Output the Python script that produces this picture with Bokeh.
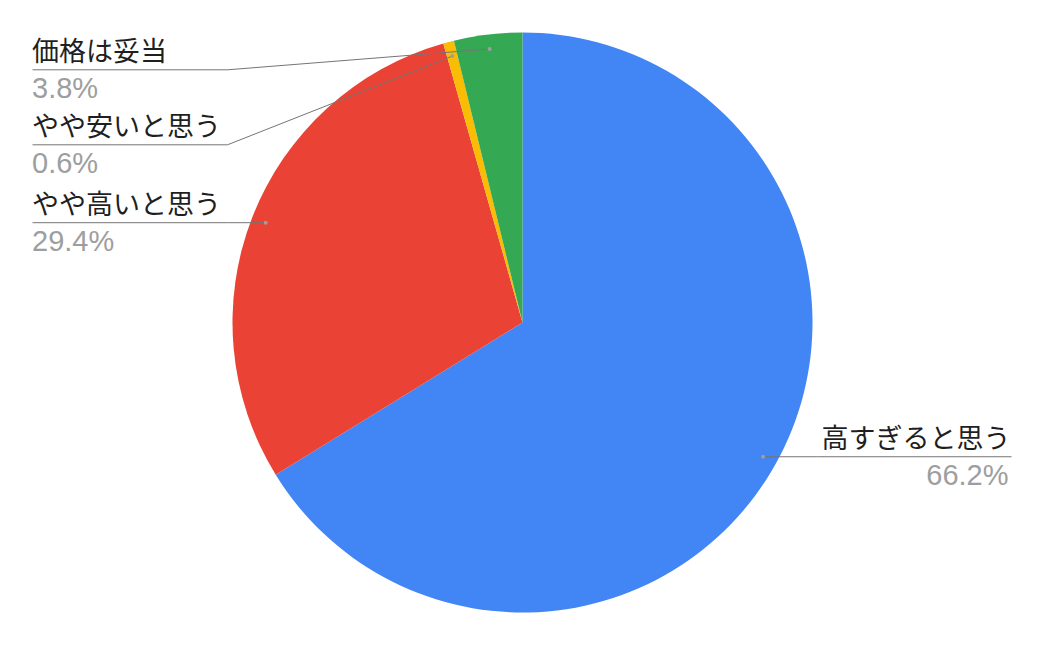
import math
from bokeh.plotting import figure
from bokeh.models import Range1d
from bokeh.core.properties import value
from bokeh.embed import file_html
from bokeh.resources import INLINE

# ---- data (clockwise from 12 o'clock) ----
categories = ["高すぎると思う", "やや高いと思う", "やや安いと思う", "価格は妥当"]
percent = [66.2, 29.4, 0.6, 3.8]
colors = ["#4285F4", "#EA4335", "#FBBC04", "#34A853"]

# ---- layout (page pixels) ----
W, H = 1028, 629
OFF = 0
CX, CY, R = 522, 322, 290
DOT_R = 0.95 * R
LEFT_X, LEFT_ELBOW = 32, 227
RIGHT_X, RIGHT_ELBOW = 1011, 817
MIN_LINE_Y, GAP = 69.3, 75
TXT_SHIFT = 9.5

def dx(px):
    return px - OFF

def dy(py):
    return (H + OFF) - py

p = figure(width=W, height=H, x_range=Range1d(0, W), y_range=Range1d(0, H),
           output_backend="svg", toolbar_location=None, min_border=0,
           background_fill_color="white", border_fill_color="white")
p.axis.visible = False
p.grid.visible = False
p.outline_line_color = None

total = sum(percent)
cum = 0.0
starts, ends, mids = [], [], []
for v in percent:
    starts.append(math.pi / 2 - 2 * math.pi * cum / total)
    mids.append(2 * math.pi * (cum + v / 2) / total)  # clockwise from top
    cum += v
    ends.append(math.pi / 2 - 2 * math.pi * cum / total)

p.wedge(x=dx(CX), y=dy(CY), radius=R, start_angle=starts, end_angle=ends,
        direction="clock", fill_color=colors, line_color=None)

dots = []
for th in mids:
    px = CX + DOT_R * math.sin(th)
    py = CY - DOT_R * math.cos(th)
    dots.append((px, py))

left = sorted([i for i in range(len(percent)) if dots[i][0] < CX], key=lambda i: dots[i][1])
right = sorted([i for i in range(len(percent)) if dots[i][0] >= CX], key=lambda i: dots[i][1])

line_y = {}
for group in (left, right):
    prev = None
    for i in group:
        y = max(dots[i][1], MIN_LINE_Y if prev is None else prev + GAP)
        line_y[i] = y
        prev = y

jp = value("Noto Sans CJK JP")
num = value("Liberation Sans")

for i in range(len(percent)):
    px, py = dots[i]
    L = line_y[i]
    if i in left:
        ex = min(px, LEFT_ELBOW)
        xs = [LEFT_X, ex, px]
        tx, vx, align = LEFT_X - 0.5, LEFT_X - 0.5, "left"
    else:
        ex = max(px, RIGHT_ELBOW)
        xs = [RIGHT_X, ex, px]
        tx, vx, align = RIGHT_X - 1, RIGHT_X - 3, "right"
    p.line(x=[dx(x) for x in xs], y=[dy(L), dy(L), dy(py)],
           line_color="#757575", line_width=1)
    p.scatter(x=[dx(px)], y=[dy(py)], size=4, marker="circle",
              fill_color="#9e9e9e", line_color=None)
    p.text(x=[dx(tx)], y=[dy(L - 10.5 - TXT_SHIFT)], text=[categories[i]],
           text_font=jp, text_font_size="27px", text_align=align,
           text_baseline="alphabetic", text_color="#1f1f1f")
    p.text(x=[dx(vx)], y=[dy(L + 28 - TXT_SHIFT)], text=[f"{percent[i]:.1f}%"],
           text_font=num, text_font_size="29px", text_align=align,
           text_baseline="alphabetic", text_color="#9e9e9e")

open("out.html", "w").write(file_html(p, INLINE))
